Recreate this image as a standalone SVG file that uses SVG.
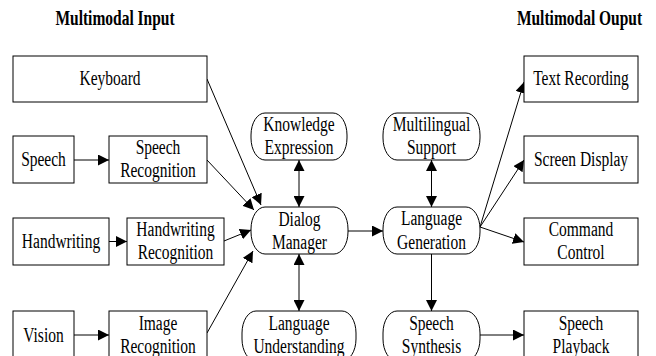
<svg xmlns="http://www.w3.org/2000/svg" width="656" height="356" viewBox="0 0 656 356">
<style>
  .box{fill:#fff;stroke:#000;stroke-width:1}
  text{font-family:"Liberation Serif","Times New Roman",serif;font-size:20px;text-anchor:middle;fill:#000}
  .title{font-weight:bold}
  .c line{stroke:#000;stroke-width:1;fill:none}
</style>
<defs>
  <marker id="ah" markerUnits="userSpaceOnUse" markerWidth="11" markerHeight="11" viewBox="0 0 11 11" refX="11" refY="5.5" orient="auto-start-reverse">
    <path d="M0,0 L11,5.5 L0,11 Z" fill="#000"/>
  </marker>
</defs>
<rect width="656" height="356" fill="#fff"/>
<g id="titles">
  <text class="title" transform="translate(115 25) scale(.775 1)">Multimodal Input</text>
  <text class="title" transform="translate(579.5 25) scale(.775 1)">Multimodal Ouput</text>
</g>
<g class="c" id="connectors">
  <line x1="207" y1="79" x2="261" y2="205" marker-end="url(#ah)"/>
  <line x1="207" y1="160" x2="254" y2="210" marker-end="url(#ah)"/>
  <line x1="224" y1="241" x2="251" y2="230" marker-end="url(#ah)"/>
  <line x1="207" y1="333" x2="253" y2="251" marker-end="url(#ah)"/>
  <line x1="74" y1="160" x2="109" y2="160" marker-end="url(#ah)"/>
  <line x1="109" y1="241.5" x2="127" y2="241.5" marker-end="url(#ah)"/>
  <line x1="74" y1="335" x2="109" y2="335" marker-end="url(#ah)"/>
  <line x1="299" y1="160" x2="299" y2="207" marker-start="url(#ah)" marker-end="url(#ah)"/>
  <line x1="299" y1="254" x2="299" y2="311" marker-start="url(#ah)" marker-end="url(#ah)"/>
  <line x1="348" y1="231" x2="383" y2="231" marker-end="url(#ah)"/>
  <line x1="431.5" y1="160" x2="431.5" y2="207" marker-start="url(#ah)" marker-end="url(#ah)"/>
  <line x1="431.5" y1="254" x2="431.5" y2="311" marker-end="url(#ah)"/>
  <line x1="480" y1="335" x2="524" y2="335" marker-end="url(#ah)"/>
  <line x1="480" y1="227" x2="524" y2="82" marker-end="url(#ah)"/>
  <line x1="480" y1="227" x2="524" y2="160" marker-end="url(#ah)"/>
  <line x1="480" y1="227" x2="524" y2="242" marker-end="url(#ah)"/>
</g>
<g id="keyboard"><rect class="box" x="13" y="56" width="194" height="46"/><text transform="translate(110 85) scale(.775 1)">Keyboard</text></g>
<g id="speech"><rect class="box" x="13" y="136" width="61" height="47"/><text transform="translate(43.5 165.5) scale(.775 1)">Speech</text></g>
<g id="speechRecognition"><rect class="box" x="109" y="136" width="98" height="47"/><text transform="translate(158 154) scale(.775 1)">Speech</text><text transform="translate(158 177) scale(.775 1)">Recognition</text></g>
<g id="handwriting"><rect class="box" x="13" y="218" width="96" height="47"/><text transform="translate(61 247.5) scale(.775 1)">Handwriting</text></g>
<g id="handwritingRecognition"><rect class="box" x="127" y="218" width="97" height="47"/><text transform="translate(175.5 236) scale(.775 1)">Handwriting</text><text transform="translate(175.5 259) scale(.775 1)">Recognition</text></g>
<g id="vision"><rect class="box" x="13" y="311" width="61" height="47"/><text transform="translate(43.5 341.5) scale(.775 1)">Vision</text></g>
<g id="imageRecognition"><rect class="box" x="109" y="311" width="98" height="47"/><text transform="translate(158 329.5) scale(.775 1)">Image</text><text transform="translate(158 352.5) scale(.775 1)">Recognition</text></g>
<g id="knowledgeExpression"><rect class="box" x="251" y="113" width="96" height="47" rx="14" ry="22"/><text transform="translate(299 131) scale(.775 1)">Knowledge</text><text transform="translate(299 154) scale(.775 1)">Expression</text></g>
<g id="dialogManager"><rect class="box" x="251" y="207" width="97" height="47" rx="14" ry="22"/><text transform="translate(299.5 225.5) scale(.775 1)">Dialog</text><text transform="translate(299.5 248.5) scale(.775 1)">Manager</text></g>
<g id="languageUnderstanding"><rect class="box" x="242" y="311" width="114" height="50" rx="14" ry="22"/><text transform="translate(299 329.5) scale(.775 1)">Language</text><text transform="translate(299 352.5) scale(.775 1)">Understanding</text></g>
<g id="multilingualSupport"><rect class="box" x="383" y="113" width="97" height="47" rx="14" ry="22"/><text transform="translate(431.5 131) scale(.775 1)">Multilingual</text><text transform="translate(431.5 154) scale(.775 1)">Support</text></g>
<g id="languageGeneration"><rect class="box" x="383" y="207" width="97" height="47" rx="14" ry="22"/><text transform="translate(431.5 225) scale(.775 1)">Language</text><text transform="translate(431.5 248.5) scale(.775 1)">Generation</text></g>
<g id="speechSynthesis"><rect class="box" x="383" y="311" width="97" height="50" rx="14" ry="22"/><text transform="translate(431.5 329.5) scale(.775 1)">Speech</text><text transform="translate(431.5 352.5) scale(.775 1)">Synthesis</text></g>
<g id="textRecording"><rect class="box" x="524" y="56" width="114" height="46"/><text transform="translate(581 85) scale(.775 1)">Text Recording</text></g>
<g id="screenDisplay"><rect class="box" x="524" y="136" width="114" height="47"/><text transform="translate(581 165.5) scale(.775 1)">Screen Display</text></g>
<g id="commandControl"><rect class="box" x="524" y="218" width="114" height="47"/><text transform="translate(581 236) scale(.775 1)">Command</text><text transform="translate(581 259) scale(.775 1)">Control</text></g>
<g id="speechPlayback"><rect class="box" x="524" y="311" width="114" height="47"/><text transform="translate(581 329.5) scale(.775 1)">Speech</text><text transform="translate(581 352.5) scale(.775 1)">Playback</text></g>
</svg>
